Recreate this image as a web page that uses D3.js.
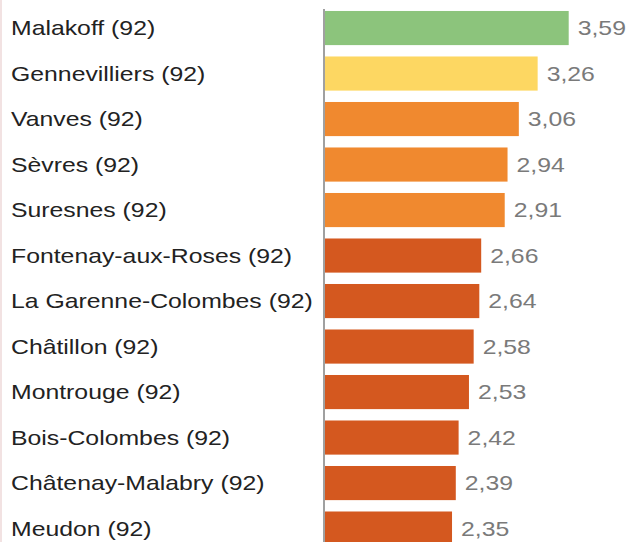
<!DOCTYPE html>
<html>
<head>
<meta charset="utf-8">
<script src="https://cdn.jsdelivr.net/npm/d3@7"></script>
<style>
  body { margin: 0; background: #fff; }
  svg { display: block; font-family: "Liberation Sans", Arial, sans-serif; }
  .name { fill: #222; font-size: 20px; }
  .value { fill: #7a7a7a; font-size: 20px; }
</style>
</head>
<body>
<svg id="chart"></svg>
<script>
const communes = [
  "Malakoff (92)", "Gennevilliers (92)", "Vanves (92)", "Sèvres (92)",
  "Suresnes (92)", "Fontenay-aux-Roses (92)", "La Garenne-Colombes (92)",
  "Châtillon (92)", "Montrouge (92)", "Bois-Colombes (92)",
  "Châtenay-Malabry (92)", "Meudon (92)"
];
const values = [3.59, 3.26, 3.06, 2.94, 2.91, 2.66, 2.64, 2.58, 2.53, 2.42, 2.39, 2.35];
const barColors = [
  "#8cc47c", "#fdd762", "#f0892f", "#f0892f", "#f0892f",
  "#d4581f", "#d4581f", "#d4581f", "#d4581f", "#d4581f", "#d4581f", "#d4581f"
];

const width = 628, height = 542;
const axisX = 325;
const stretch = 1.24; // the source text is drawn wider than it is tall

const data = communes.map((name, i) => ({ name, value: values[i], color: barColors[i] }));

const svg = d3.select("#chart").attr("width", width).attr("height", height);

// thin pink edge on the left
svg.append("rect").attr("x", 0).attr("y", 0).attr("width", 2).attr("height", height).attr("fill", "#f2e2e2");

const x = d3.scaleLinear().domain([1, 3.59]).range([axisX, 568.7]);
const y = d3.scaleBand().domain(communes).range([-0.4, 557]).padding(0.25);

const rows = svg.selectAll("g.row").data(data).join("g")
  .attr("class", "row")
  .attr("transform", d => `translate(0,${y(d.name)})`);

rows.append("rect")
  .attr("x", axisX)
  .attr("width", d => x(d.value) - axisX)
  .attr("height", y.bandwidth())
  .attr("fill", d => d.color);

rows.append("text")
  .attr("class", "name")
  .attr("transform", `translate(11,${y.bandwidth() / 2}) scale(${stretch},1)`)
  .attr("dy", "0.35em")
  .text(d => d.name);

rows.append("text")
  .attr("class", "value")
  .attr("transform", d => `translate(${x(d.value) + 9},${y.bandwidth() / 2}) scale(${stretch},1)`)
  .attr("dy", "0.35em")
  .text(d => d3.format(".2f")(d.value).replace(".", ","));

// vertical axis line
svg.append("line")
  .attr("x1", axisX - 1).attr("x2", axisX - 1)
  .attr("y1", 9).attr("y2", height)
  .attr("stroke", "#a0a0a0").attr("stroke-width", 2);
</script>
</body>
</html>
